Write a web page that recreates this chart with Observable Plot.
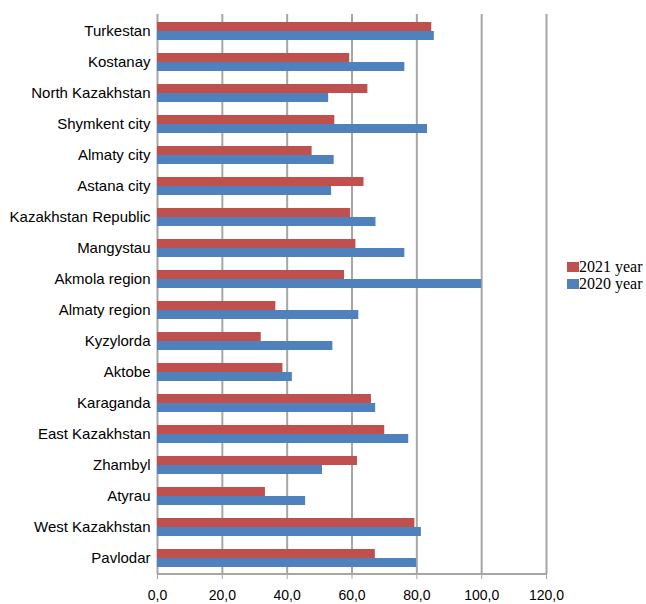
<!DOCTYPE html>
<html><head><meta charset="utf-8">
<script src="https://cdn.jsdelivr.net/npm/d3@7"></script>
<script src="https://cdn.jsdelivr.net/npm/@observablehq/plot@0.6"></script>
<style>
body{margin:0;background:#fff;}
#wrap{position:relative;width:646px;height:604px;}
#legend{position:absolute;left:567px;top:258px;font-family:"Liberation Serif","Times New Roman",serif;font-size:16px;color:#000;line-height:17px;}
#legend .sw{display:inline-block;width:12px;height:10px;margin-right:0px;vertical-align:0px;}
</style></head>
<body><div id="wrap"><div id="legend"></div></div>
<script>
const regions = ["Turkestan","Kostanay","North Kazakhstan","Shymkent city","Almaty city","Astana city","Kazakhstan Republic","Mangystau","Akmola region","Almaty region","Kyzylorda","Aktobe","Karaganda","East Kazakhstan","Zhambyl","Atyrau","West Kazakhstan","Pavlodar"];
const values2021 = [84.6,59.3,64.9,54.7,47.7,63.7,59.6,61.2,57.7,36.5,32.0,38.7,66.0,70.1,61.7,33.3,79.4,67.2];
const values2020 = [85.4,76.3,52.8,83.3,54.5,53.7,67.4,76.3,100.0,62.1,54.1,41.6,67.3,77.5,50.9,45.7,81.4,79.9];
const series = ["2021 year","2020 year"];
const colors = ["#C0504D","#4F81BD"];
const xTicks = [0,20,40,60,80,100,120];

const d21 = regions.map((r,i)=>({region:r, value:values2021[i], series:series[0]}));
const d20 = regions.map((r,i)=>({region:r, value:values2020[i], series:series[1]}));

const grid = "#a6a6a6";
const chart = Plot.plot({
  width: 646, height: 604,
  marginLeft: 157, marginRight: 100, marginTop: 14, marginBottom: 30,
  style: {fontFamily: "'Liberation Sans', Arial, sans-serif", fontSize: "15px", color: "#000", background: "#fff"},
  x: {domain: [0,120], ticks: xTicks, tickFormat: d => d.toFixed(1).replace(".", ","), label: null, tickSize: 5, tickPadding: 11},
  y: {domain: regions, paddingInner: 0.42, paddingOuter: 0.21, label: null, tickSize: 0, tickPadding: 7},
  color: {domain: series, range: colors},
  marks: [
    Plot.ruleX(xTicks, {stroke: grid, strokeWidth: 2}),
    Plot.barX(d21, {x: "value", y: "region", fill: "#C0504D", insetBottom: 9}),
    Plot.barX(d20, {x: "value", y: "region", fill: "#4F81BD", insetTop: 9})
  ]
});
chart.querySelectorAll('g[aria-label="x-axis tick"] path').forEach(p=>p.setAttribute("stroke", grid));
chart.querySelectorAll('g[aria-label="x-axis tick label"]').forEach(g=>g.setAttribute("font-size", "14px"));
document.getElementById("wrap").prepend(chart);

const svg = d3.select(chart);
const xs = chart.scale("x");
svg.append("line").attr("x1", xs.apply(0)).attr("x2", xs.apply(120))
  .attr("y1", 574).attr("y2", 574).attr("stroke", grid).attr("stroke-width", 2);

const leg = document.getElementById("legend");
series.forEach((s,i)=>{
  const row = document.createElement("div");
  row.innerHTML = `<span class="sw" style="background:${colors[i]}"></span>${s}`;
  leg.appendChild(row);
});
</script></body></html>
